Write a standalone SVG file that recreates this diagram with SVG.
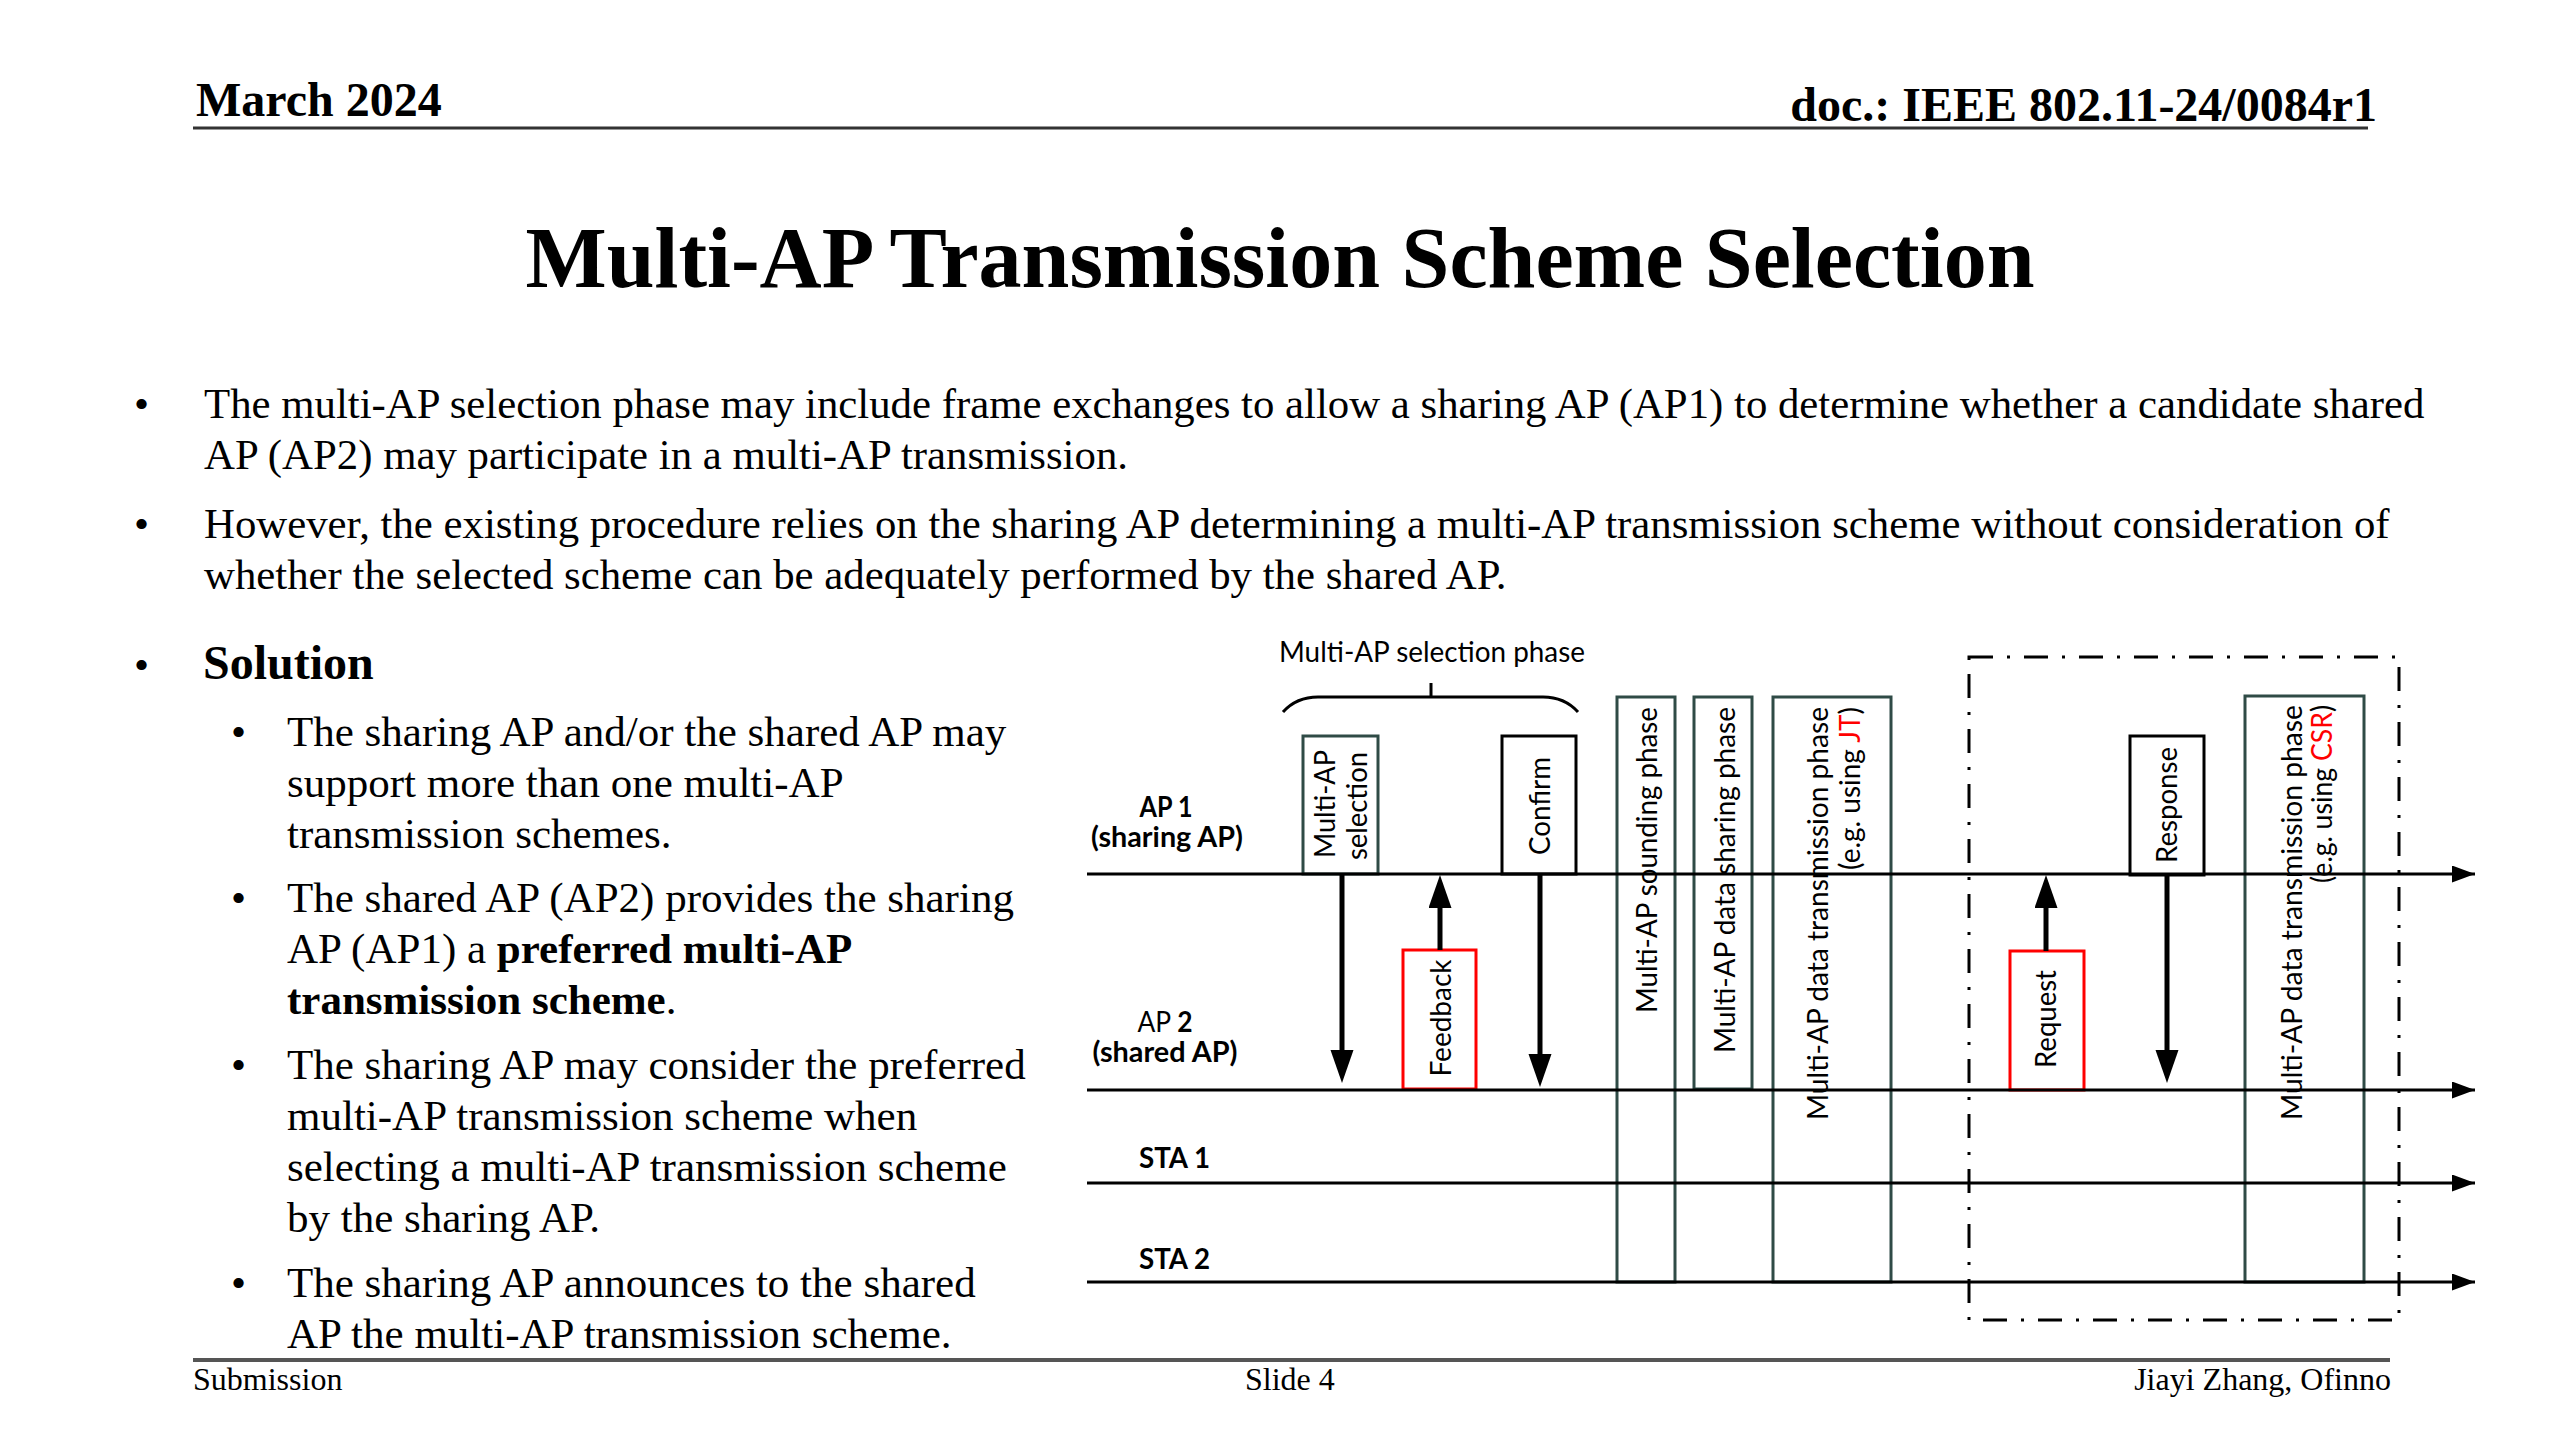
<svg xmlns="http://www.w3.org/2000/svg" width="2560" height="1440" viewBox="0 0 2560 1440">
<style>
  .serif { font-family: "Liberation Serif", "Times New Roman", serif; fill: #000; }
  .hdr { font-size: 48px; font-weight: bold; }
  .title { font-size: 86px; font-weight: bold; }
  .body { font-size: 43px; }
  .main { font-size: 42.8px; }
  .b { font-weight: bold; }
  .foot { font-size: 32px; }
  .lbl { font-family: Lato, "Open Sans", sans-serif; font-size: 28px; fill: #000; }
  .lblb { font-family: Lato, "Open Sans", sans-serif; font-size: 28px; font-weight: bold; fill: #000; }
  .phase { fill: #fff; stroke: #2f4b46; stroke-width: 3; }
  .blk { fill: #fff; stroke: #000; stroke-width: 3; }
  .red { fill: #fff; stroke: #ff0000; stroke-width: 3; }
  .life { stroke: #000; stroke-width: 3; fill: none; }
  .msg { stroke: #000; stroke-width: 5; fill: none; }
  .rule { stroke: #333; stroke-width: 3; }
</style>
<defs>
  <marker id="lifeHead" markerUnits="userSpaceOnUse" markerWidth="24" markerHeight="18" refX="23" refY="8.5" orient="auto">
    <path d="M0,0 L23,8.5 L0,17 z" fill="#000"/>
  </marker>
  <marker id="msgHead" markerUnits="userSpaceOnUse" markerWidth="34" markerHeight="24" refX="18" refY="11.5" orient="auto">
    <path d="M0,0 L33,11.5 L0,23 z" fill="#000"/>
  </marker>
</defs>
<rect width="2560" height="1440" fill="#fff"/>

<!-- Header -->
<g id="header">
  <text class="serif hdr" x="196" y="116">March 2024</text>
  <text class="serif hdr" x="2377" y="121" text-anchor="end">doc.: IEEE 802.11-24/0084r1</text>
  <line class="rule" x1="193" y1="128" x2="2368" y2="128"/>
</g>

<g id="title">
  <text class="serif title" x="1280" y="287" text-anchor="middle">Multi-AP Transmission Scheme Selection</text>
</g>

<!-- Body text -->
<g id="body" class="serif body">
  <text x="134" y="418">•</text>
  <text class="main" x="204" y="418">The multi-AP selection phase may include frame exchanges to allow a sharing AP (AP1) to determine whether a candidate shared</text>
  <text class="main" x="204" y="469">AP (AP2) may participate in a multi-AP transmission.</text>
  <text x="134" y="538">•</text>
  <text class="main" x="204" y="538">However, the existing procedure relies on the sharing AP determining a multi-AP transmission scheme without consideration of</text>
  <text class="main" x="204" y="589">whether the selected scheme can be adequately performed by the shared AP.</text>

  <text x="134" y="679">•</text>
  <text x="203" y="679" class="b" font-size="48">Solution</text>

  <text x="231" y="746">•</text>
  <text x="287" y="746">The sharing AP and/or the shared AP may</text>
  <text x="287" y="797">support more than one multi-AP</text>
  <text x="287" y="848">transmission schemes.</text>

  <text x="231" y="912">•</text>
  <text x="287" y="912">The shared AP (AP2) provides the sharing</text>
  <text x="287" y="963">AP (AP1) a <tspan class="b">preferred multi-AP</tspan></text>
  <text x="287" y="1014"><tspan class="b">transmission scheme</tspan>.</text>

  <text x="231" y="1079">•</text>
  <text x="287" y="1079">The sharing AP may consider the preferred</text>
  <text x="287" y="1130">multi-AP transmission scheme when</text>
  <text x="287" y="1181">selecting a multi-AP transmission scheme</text>
  <text x="287" y="1232">by the sharing AP.</text>

  <text x="231" y="1297">•</text>
  <text x="287" y="1297">The sharing AP announces to the shared</text>
  <text x="287" y="1348">AP the multi-AP transmission scheme.</text>
</g>

<!-- Footer -->
<g id="footer">
  <line x1="193" y1="1360" x2="2390" y2="1360" stroke="#555" stroke-width="4"/>
  <text class="serif foot" x="193" y="1390">Submission</text>
  <text class="serif foot" x="1245" y="1390">Slide 4</text>
  <text class="serif foot" x="2391" y="1390" text-anchor="end">Jiayi Zhang, Ofinno</text>
</g>

<!-- Diagram: phase boxes (drawn first, behind lifelines) -->
<g id="sounding-phase">
  <rect class="phase" x="1617" y="697" width="58" height="585"/>
  <text class="lbl" transform="translate(1657,707) rotate(-90)" text-anchor="end" textLength="306" lengthAdjust="spacingAndGlyphs">Multi-AP sounding phase</text>
</g>
<g id="sharing-phase">
  <rect class="phase" x="1694" y="697" width="58" height="392"/>
  <text class="lbl" transform="translate(1735,707) rotate(-90)" text-anchor="end" textLength="346" lengthAdjust="spacingAndGlyphs">Multi-AP data sharing phase</text>
</g>
<g id="jt-transmission-phase">
  <rect class="phase" x="1773" y="697" width="118" height="585"/>
  <text class="lbl" transform="translate(1828,707) rotate(-90)" text-anchor="end" textLength="413" lengthAdjust="spacingAndGlyphs">Multi-AP data transmission phase</text>
  <text class="lbl" transform="translate(1860,707) rotate(-90)" text-anchor="end" textLength="163" lengthAdjust="spacingAndGlyphs">(e.g. using <tspan fill="#ff0000">JT</tspan>)</text>
</g>
<g id="csr-transmission-phase">
  <rect class="phase" x="2245" y="696" width="119" height="586"/>
  <text class="lbl" transform="translate(2302,705) rotate(-90)" text-anchor="end" textLength="415" lengthAdjust="spacingAndGlyphs">Multi-AP data transmission phase</text>
  <text class="lbl" transform="translate(2332,705) rotate(-90)" text-anchor="end" textLength="178" lengthAdjust="spacingAndGlyphs">(e.g. using <tspan fill="#ff0000">CSR</tspan>)</text>
</g>

<g id="csr-region">
  <rect x="1969" y="657" width="430" height="663" fill="none" stroke="#000" stroke-width="3" stroke-dasharray="24 14 3 14"/>
</g>

<g id="selection-phase-brace">
  <path d="M1283,712 C1292,702 1305,697 1318,697 L1543,697 C1556,697 1569,702 1578,712 M1431,697 L1431,683" fill="none" stroke="#000" stroke-width="3"/>
  <text class="lbl" x="1432" y="662" text-anchor="middle" textLength="306" lengthAdjust="spacingAndGlyphs">Multi-AP selection phase</text>
</g>

<!-- Frame boxes -->
<g id="multi-ap-selection">
  <rect class="phase" x="1303" y="736" width="75" height="138"/>
  <text class="lbl" transform="translate(1335,804) rotate(-90)" text-anchor="middle" textLength="108" lengthAdjust="spacingAndGlyphs">Multi-AP</text>
  <text class="lbl" transform="translate(1367,806) rotate(-90)" text-anchor="middle" textLength="108" lengthAdjust="spacingAndGlyphs">selection</text>
</g>
<g id="confirm">
  <rect class="blk" x="1502" y="736" width="74" height="138"/>
  <text class="lbl" transform="translate(1550,806) rotate(-90)" text-anchor="middle" textLength="98" lengthAdjust="spacingAndGlyphs">Confirm</text>
</g>
<g id="feedback">
  <rect class="red" x="1403" y="950" width="73" height="139"/>
  <text class="lbl" transform="translate(1451,1018) rotate(-90)" text-anchor="middle" textLength="117" lengthAdjust="spacingAndGlyphs">Feedback</text>
</g>
<g id="request">
  <rect class="red" x="2010" y="951" width="74" height="139"/>
  <text class="lbl" transform="translate(2056,1019) rotate(-90)" text-anchor="middle" textLength="98" lengthAdjust="spacingAndGlyphs">Request</text>
</g>
<g id="response">
  <rect class="blk" x="2130" y="736" width="74" height="139"/>
  <text class="lbl" transform="translate(2177,805) rotate(-90)" text-anchor="middle" textLength="116" lengthAdjust="spacingAndGlyphs">Response</text>
</g>

<!-- Lifeline labels -->
<g id="ap1-label">
  <text class="lblb" x="1166" y="817" text-anchor="middle" textLength="53" lengthAdjust="spacingAndGlyphs">AP 1</text>
  <text class="lblb" x="1167" y="847" text-anchor="middle" textLength="152" lengthAdjust="spacingAndGlyphs">(sharing AP)</text>
</g>
<g id="ap2-label">
  <text class="lbl" x="1165" y="1032" text-anchor="middle" textLength="55" lengthAdjust="spacingAndGlyphs">AP <tspan font-weight="bold">2</tspan></text>
  <text class="lblb" x="1165" y="1062" text-anchor="middle" textLength="145" lengthAdjust="spacingAndGlyphs">(shared AP)</text>
</g>
<g id="sta1-label">
  <text class="lblb" x="1139" y="1168" textLength="71" lengthAdjust="spacingAndGlyphs">STA 1</text>
</g>
<g id="sta2-label">
  <text class="lblb" x="1139" y="1269" textLength="71" lengthAdjust="spacingAndGlyphs">STA 2</text>
</g>

<!-- Connectors -->
<g id="connectors">
  <line class="life" x1="1087" y1="874" x2="2475" y2="874" marker-end="url(#lifeHead)"/>
  <line class="life" x1="1087" y1="1090" x2="2475" y2="1090" marker-end="url(#lifeHead)"/>
  <line class="life" x1="1087" y1="1183" x2="2475" y2="1183" marker-end="url(#lifeHead)"/>
  <line class="life" x1="1087" y1="1282" x2="2475" y2="1282" marker-end="url(#lifeHead)"/>

  <line class="msg" x1="1342" y1="874" x2="1342" y2="1068" marker-end="url(#msgHead)"/>
  <line class="msg" x1="1440" y1="950" x2="1440" y2="890" marker-end="url(#msgHead)"/>
  <line class="msg" x1="1540" y1="874" x2="1540" y2="1072" marker-end="url(#msgHead)"/>
  <line class="msg" x1="2046" y1="951" x2="2046" y2="890" marker-end="url(#msgHead)"/>
  <line class="msg" x1="2167" y1="875" x2="2167" y2="1068" marker-end="url(#msgHead)"/>
</g>
</svg>
